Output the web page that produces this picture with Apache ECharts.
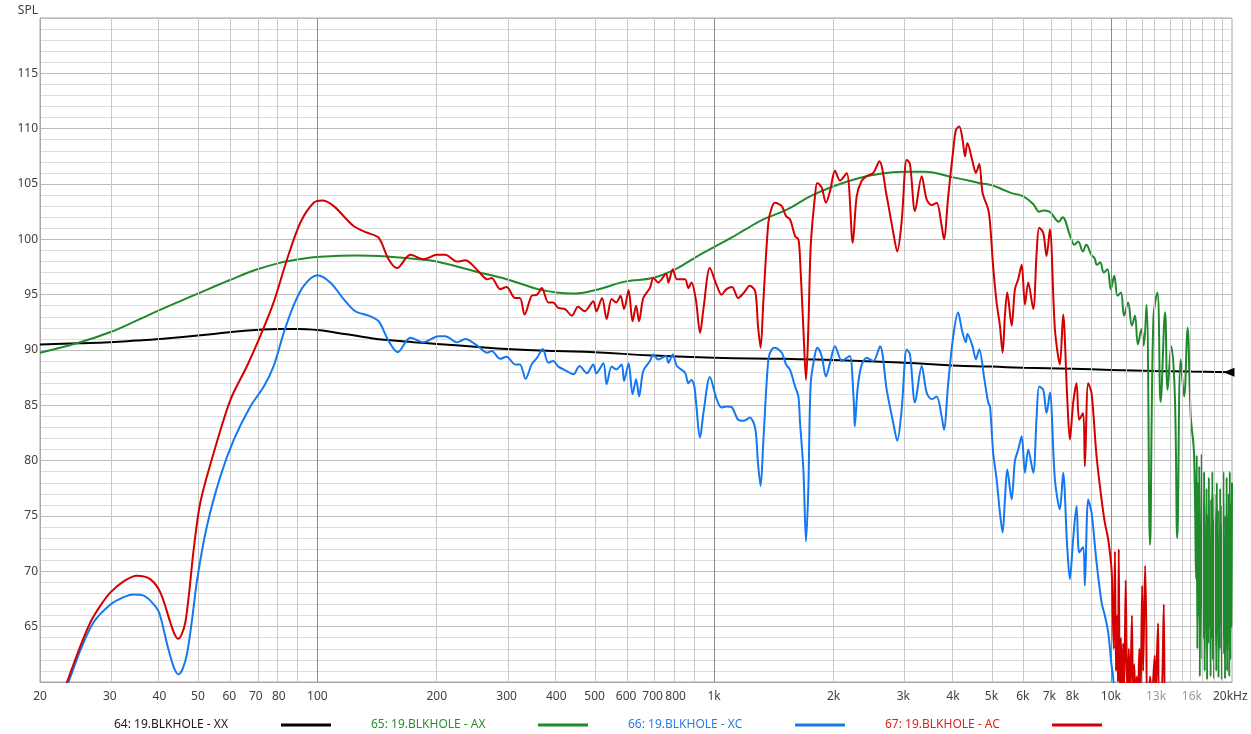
<!DOCTYPE html>
<html>
<head>
<meta charset="utf-8">
<script src="https://cdn.jsdelivr.net/npm/echarts@6/dist/echarts.min.js"></script>
<style>
html,body{margin:0;padding:0;background:#fff;}
#chart{width:1251px;height:734px;}
</style>
</head>
<body>
<div id="chart"></div>
<script>
// ---- data: [frequency Hz, SPL dB] ----
const XX = [[20,90.5],[25,90.6],[30,90.7],[35,90.85],[40,91.0],[50,91.3],[60,91.6],[70,91.8],[80,91.9],[90,91.9],[100,91.8],[110,91.6],[120,91.4],[135,91.1],[150,90.9],[175,90.7],[200,90.55],[250,90.3],[300,90.1],[400,89.9],[500,89.8],[700,89.5],[1000,89.3],[1500,89.2],[2000,89.1],[3000,88.85],[4000,88.6],[5000,88.5],[6000,88.4],[8000,88.3],[10000,88.2],[13000,88.1],[16000,88.05],[20200,88.0]];

const AX = [[20,89.75],[25,90.65],[30,91.6],[35,92.65],[40,93.6],[45,94.4],[50,95.1],[60,96.3],[70,97.25],[80,97.85],[90,98.2],[100,98.4],[125,98.55],[150,98.45],[180,98.2],[200,98.0],[250,97.1],[300,96.4],[360,95.5],[400,95.2],[440,95.1],[500,95.4],[600,96.2],[700,96.5],[800,97.3],[900,98.4],[1000,99.3],[1100,100.1],[1200,100.9],[1330,101.8],[1530,102.7],[1750,103.9],[2000,104.8],[2300,105.5],[2600,105.9],[3000,106.1],[3400,106.1],[4000,105.6],[4400,105.3],[4700,105.05],[5000,104.9],[5300,104.55],[5600,104.2],[6000,103.9],[6370,103.2],[6600,102.5],[6750,102.6],[7000,102.5],[7400,101.6],[7550,102.0],[7900,100.3],[8100,99.5],[8270,99.8],[8500,98.9],[8670,99.5],[8930,98.6],[9100,98.3],[9220,97.7],[9400,97.9],[9600,97.0],[9800,97.3],[10000,95.5],[10200,96.7],[10400,94.9],[10600,95.2],[10800,93.1],[11050,94.3],[11300,92.2],[11500,93.1],[11700,90.5],[11950,91.9],[12100,90.4],[12300,94.1],[12550,72.4],[12800,92.8],[13100,95.2],[13350,85.3],[13700,93.4],[13900,86.4],[14200,90.35],[14500,85.8],[14700,73.0],[15000,89.15],[15300,85.8],[15600,92.0],[15900,84.0],[16200,80.7],[16400,69.3],[16460,80.5],[16520,63],[16580,78],[16640,66],[16700,79.5],[16760,60.5],[16820,74],[16880,67],[16940,80.6],[17000,62],[17060,76],[17120,64],[17180,79],[17240,61],[17300,73],[17360,66],[17420,77.5],[17480,60.2],[17540,75],[17600,63.5],[17660,78.5],[17720,65],[17780,72],[17840,60.5],[17900,76.5],[17960,64],[18020,79],[18080,62],[18140,74.5],[18200,60.3],[18260,77],[18320,67],[18380,73],[18440,61],[18500,78],[18560,65],[18620,75.5],[18680,60.4],[18740,72],[18800,63],[18860,77.5],[18920,66],[18980,74],[19040,60.2],[19100,76],[19160,62.5],[19220,79],[19280,64],[19340,71],[19400,60.3],[19460,75],[19520,63],[19580,78.5],[19640,61],[19700,73],[19760,65],[19820,77],[19880,60.5],[19940,79],[20000,62],[20060,76],[20120,65],[20200,78]];

const XC = [[22,57.4],[23.6,60],[25.3,62.9],[27.3,65.4],[30.1,67.0],[32.2,67.6],[34.4,67.9],[36.5,67.8],[38.3,67.2],[39.9,66.3],[41.9,63.3],[43.5,61.3],[44.7,60.7],[45.8,61.2],[47.0,62.65],[48.4,65.8],[49.8,69.3],[52.7,74.1],[57.0,78.6],[61.6,81.9],[67.8,84.9],[73.3,86.7],[77.6,88.55],[82.3,91.55],[87.1,94.0],[92.4,95.8],[100,96.75],[107.8,96.1],[116.5,94.6],[124.7,93.5],[134.7,93.1],[142.7,92.6],[151.3,90.8],[159.4,89.8],[171.5,91.1],[185.1,90.7],[202,91.25],[210,91.25],[225,90.7],[236,91.0],[255,90.3],[268,89.75],[275,89.9],[289,89.2],[300,89.4],[315,88.7],[324,88.7],[335,87.4],[347,88.7],[358,89.3],[370,90.1],[382,88.85],[393,89.0],[405,88.5],[425,88.1],[442,87.8],[458,88.55],[478,87.9],[496,88.7],[505,87.9],[526,88.8],[536,86.9],[552,88.5],[567,88.25],[585,88.7],[593,87.2],[609,88.8],[623,86.0],[636,87.35],[647,85.8],[663,88.1],[689,89.0],[703,89.6],[723,89.15],[757,89.45],[767,88.85],[787,89.6],[806,88.55],[845,87.95],[861,87.0],[877,87.3],[892,86.7],[922,82.1],[940,84.3],[976,87.55],[1014,85.6],[1044,84.8],[1075,84.9],[1110,84.8],[1150,83.7],[1190,83.6],[1230,83.9],[1270,82.9],[1290,79.8],[1310,77.7],[1331,81.8],[1370,89.15],[1397,90.05],[1424,90.2],[1481,89.75],[1518,88.7],[1554,88.2],[1600,86.7],[1631,85.8],[1647,83.4],[1679,79.2],[1705,72.7],[1728,77.5],[1752,87.0],[1796,89.6],[1820,90.2],[1867,89.45],[1914,87.6],[1960,88.85],[2017,90.35],[2100,89.0],[2160,89.3],[2200,89.45],[2250,85.25],[2262,83.1],[2300,86.5],[2350,88.55],[2424,89.3],[2520,89.0],[2620,90.35],[2723,86.4],[2829,83.4],[2895,81.8],[2970,84.6],[3058,90.05],[3117,89.6],[3209,85.25],[3336,88.55],[3434,86.15],[3535,85.55],[3639,85.8],[3746,84.0],[3797,82.8],[3892,87.05],[4007,91.25],[4120,93.4],[4220,91.7],[4310,90.7],[4350,91.45],[4480,90.35],[4570,89.15],[4660,90.05],[4800,87.35],[4908,85.25],[4960,84.9],[5052,80.7],[5153,78.3],[5253,75.3],[5336,73.5],[5408,76.5],[5481,79.2],[5623,76.5],[5731,80.0],[5842,81.0],[5959,82.2],[6074,78.9],[6191,81.0],[6373,78.9],[6501,84.0],[6599,86.7],[6754,86.4],[6887,84.3],[7020,86.15],[7227,78.3],[7438,75.6],[7582,78.9],[7760,72.3],[7883,69.3],[8035,72.9],[8195,75.9],[8321,71.7],[8515,72.2],[8600,68.7],[8766,76.5],[8941,75.3],[9204,70.8],[9475,67.2],[9658,66.0],[9845,64.5],[10040,61.5],[10130,60.5],[10250,58]];

const AC = [[22,57.5],[23.4,60.0],[25,62.8],[26.8,65.4],[28.4,66.9],[30.1,68.1],[32.5,69.1],[35.1,69.6],[37.9,69.3],[40.2,68.1],[42.6,65.4],[43.7,64.3],[44.6,63.9],[45.5,64.3],[46.5,65.4],[47.6,68.3],[48.8,72.0],[50.7,76.2],[54.8,80.7],[60.4,85.5],[66.5,88.55],[71.8,91.25],[77.6,94.3],[83.9,98.2],[90.6,101.5],[97.9,103.3],[102.8,103.5],[110,103.0],[123.4,101.2],[133.4,100.6],[142.7,100.15],[151.2,98.2],[158.8,97.4],[171.5,98.6],[185.3,98.2],[200,98.6],[210,98.6],[225,98.0],[236,98.1],[255,97.1],[268,96.4],[275,96.5],[289,95.5],[300,95.7],[315,94.7],[324,94.7],[333,93.2],[347,94.9],[358,95.0],[368,95.6],[382,94.3],[393,94.3],[405,93.8],[421,93.7],[438,93.1],[454,93.9],[472,93.5],[496,94.4],[505,93.5],[522,94.7],[536,92.8],[552,94.6],[567,94.3],[581,94.9],[593,93.7],[609,95.4],[623,92.6],[636,94.0],[647,92.6],[663,94.7],[689,95.6],[703,96.5],[723,96.1],[757,96.9],[767,96.1],[787,97.3],[806,96.4],[845,96.4],[861,95.6],[877,96.1],[900,94.5],[922,91.55],[940,93.7],[976,97.4],[1014,95.9],[1044,95.0],[1075,95.5],[1110,95.7],[1150,94.7],[1190,95.2],[1230,95.8],[1270,95.3],[1290,92.2],[1310,90.2],[1331,94.4],[1370,101.5],[1397,102.85],[1424,103.3],[1481,103.0],[1518,102.1],[1554,101.8],[1600,100.3],[1631,100.0],[1647,98.2],[1679,91.9],[1705,87.3],[1728,91.9],[1752,99.4],[1796,103.9],[1820,105.1],[1867,104.7],[1914,103.3],[1960,104.35],[2017,106.2],[2077,105.3],[2159,106.0],[2236,99.7],[2288,103.9],[2355,105.3],[2424,105.7],[2519,106.0],[2609,107.05],[2723,103.9],[2829,100.6],[2895,98.9],[2970,101.6],[3058,107.2],[3117,106.8],[3209,102.55],[3336,105.7],[3434,103.6],[3535,103.1],[3639,103.3],[3746,101.2],[3797,100.0],[3892,103.9],[4007,108.1],[4070,109.9],[4150,110.2],[4230,109.0],[4290,107.5],[4350,108.7],[4480,107.05],[4570,106.0],[4660,106.8],[4750,104.2],[4908,102.7],[4960,101.5],[5052,97.5],[5153,94.3],[5253,92.2],[5336,89.75],[5408,93.1],[5481,95.2],[5623,92.2],[5731,95.5],[5842,96.4],[5959,97.7],[6074,94.1],[6191,96.1],[6373,93.7],[6501,98.8],[6599,101.05],[6754,100.6],[6887,98.5],[7020,100.9],[7227,91.9],[7438,88.7],[7582,93.2],[7760,85.8],[7883,81.9],[8035,85.2],[8195,87.0],[8321,83.7],[8515,84.3],[8600,79.5],[8766,87.0],[8941,86.1],[9204,80.4],[9475,76.5],[9658,74.4],[9845,72.9],[10040,70.2],[10110,66.5],[10170,63.0],[10240,71.8],[10300,61.0],[10360,66.0],[10420,60.0],[10470,72.0],[10530,59.0],[10600,64.0],[10670,58.5],[10740,63.5],[10810,59.5],[10900,69.2],[10960,62.0],[11030,58.5],[11100,63.0],[11180,58.5],[11300,66.0],[11370,58.5],[11450,61.6],[11530,58.5],[11620,60.5],[11700,58.5],[11800,63.0],[11880,58.5],[11990,68.7],[12060,61.0],[12200,70.5],[12280,65.4],[12340,58.5],[12450,58.5],[12560,60.5],[12680,58.5],[12900,62.4],[12960,58.5],[13150,65.3],[13220,58.5],[13400,58.5],[13600,67.0],[13650,58.0]];

const SERIES_NAMES = ['64: 19.BLKHOLE - XX','65: 19.BLKHOLE - AX','66: 19.BLKHOLE - XC','67: 19.BLKHOLE - AC'];
const SERIES_COLORS = ['#000000','#1f8a2c','#1478f0','#d40000'];
const LEGEND_TEXT_COLORS = ['#1a1a1a','#2e8b2e','#2a7de1','#e0201c'];
const SERIES_SMOOTH = [0.5, 0.4, 0.3, 0.3];

const X_TICKS = [20,30,40,50,60,70,80,100,200,300,400,500,600,700,800,1000,2000,3000,4000,5000,6000,7000,8000,10000,13000,16000,20000];
const X_GRID_MINOR = [30,40,50,60,70,80,90,200,300,400,500,600,700,800,900,2000,3000,4000,5000,6000,7000,8000,9000,11000,12000,13000,14000,15000,16000,17000,18000,19000];
const X_GRID_MAJOR = [100,1000,10000];
const X_MIN = 20, X_MAX = 20200;
const Y_MIN = 60, Y_MAX = 120, Y_STEP = 5;

// ---- chart ----
const FONT = '"Noto Sans", "DejaVu Sans", sans-serif';
const lg = v => Math.log10(v);
const toPts = arr => arr.map(p => [lg(p[0]), p[1]]);

function fmtFreq(val) {
  const f = Math.round(Math.pow(10, val));
  if (f === 20000) return '20kHz';
  if (f === 13000 || f === 16000) return '{g|' + (f / 1000) + 'k}';
  if (f >= 1000) return (f / 1000) + 'k';
  return String(f);
}

const gridLines = X_GRID_MINOR.map(f => ({ xAxis: lg(f), lineStyle: { color: '#c9c9c9' } }))
  .concat(X_GRID_MAJOR.map(f => ({ xAxis: lg(f), lineStyle: { color: '#8c8c8c' } })));

const dataSets = [XX, AX, XC, AC];
const series = [{
  type: 'line', name: '_grid', data: [], z: 1, silent: true,
  markLine: { silent: true, symbol: ['none', 'none'], label: { show: false }, animation: false,
    lineStyle: { type: 'solid', width: 1 }, data: gridLines }
}];
dataSets.forEach((d, i) => {
  const s = {
    type: 'line', name: SERIES_NAMES[i], data: toPts(d), showSymbol: false, symbol: 'none',
    smooth: SERIES_SMOOTH[i], z: 3 + i,
    lineStyle: { color: SERIES_COLORS[i], width: 2 }, itemStyle: { color: SERIES_COLORS[i] },
    clip: true, animation: false
  };
  if (i === 0) {
    const last = d[d.length - 1];
    s.markPoint = { silent: true, animation: false, symbol: 'triangle', symbolSize: [9, 11], symbolRotate: 90,
      symbolOffset: [-3, 0], itemStyle: { color: '#000' }, label: { show: false },
      data: [{ coord: [lg(last[0]), last[1]] }] };
  }
  series.push(s);
});

const chart = echarts.init(document.getElementById('chart'), null, { renderer: 'canvas' });
chart.setOption({
  animation: false,
  backgroundColor: '#ffffff',
  textStyle: { fontFamily: FONT },
  grid: { left: 40, right: 19, top: 18, bottom: 52, show: true, borderColor: '#a8a8a8', borderWidth: 1 },
  legend: {
    left: 109, top: 714, icon: 'rect', itemWidth: 50, itemHeight: 3, itemGap: 40, align: 'right',
    selectedMode: false,
    formatter: name => '{t|' + name + '}',
    textStyle: { fontSize: 12, fontFamily: FONT, rich: { t: { width: 162, align: 'left', fontSize: 12, fontFamily: FONT } } },
    data: SERIES_NAMES.map((n, i) => ({ name: n, textStyle: { color: LEGEND_TEXT_COLORS[i] } }))
  },
  xAxis: {
    type: 'value', min: lg(X_MIN), max: lg(X_MAX),
    axisLine: { show: true, lineStyle: { color: '#a8a8a8' } },
    axisTick: { show: false },
    splitLine: { show: false },
    axisLabel: {
      customValues: X_TICKS.map(lg), formatter: fmtFreq, color: '#404040', fontSize: 12, margin: 9,
      fontFamily: FONT, rich: { g: { color: '#9a9a9a', fontSize: 12, fontFamily: FONT } }
    }
  },
  yAxis: {
    type: 'value', min: Y_MIN, max: Y_MAX, interval: Y_STEP,
    name: 'SPL', nameLocation: 'end', nameGap: 1,
    nameTextStyle: { color: '#404040', fontSize: 12, align: 'right', padding: [0, 2, 0, 0], fontFamily: FONT },
    axisLine: { show: true, lineStyle: { color: '#a8a8a8' } },
    axisTick: { show: false },
    axisLabel: { color: '#404040', fontSize: 12, margin: 2, fontFamily: FONT,
      formatter: v => (v === Y_MIN || v === Y_MAX) ? '' : String(v) },
    splitLine: { show: true, lineStyle: { color: '#bdbdbd', width: 1 } },
    minorTick: { show: false, splitNumber: 5 },
    minorSplitLine: { show: true, lineStyle: { color: '#dedede', width: 1 } }
  },
  series: series
});
</script>
</body>
</html>
